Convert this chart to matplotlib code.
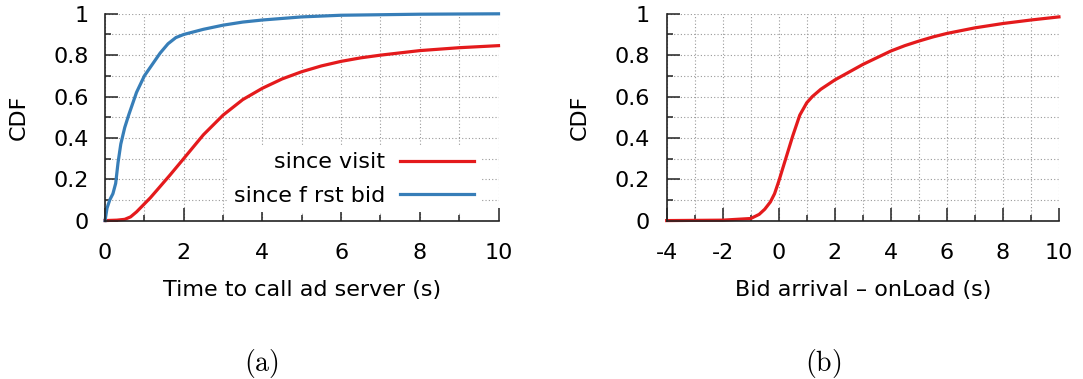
import matplotlib
matplotlib.use("Agg")
import matplotlib.pyplot as plt
from matplotlib.ticker import MultipleLocator, FuncFormatter

# panel (a): time to call ad server
visit_x = [0, 0.3, 0.5, 0.65, 0.8, 0.97, 1.15, 1.31, 1.65, 2.0, 2.5, 3.0, 3.5, 4.0, 4.5, 5.0, 5.5, 6.0, 6.5, 7.0, 8.0, 9.0, 10.0]
visit_y = [0, 0.002, 0.006, 0.018, 0.042, 0.075, 0.11, 0.145, 0.22, 0.30, 0.415, 0.51, 0.585, 0.64, 0.685, 0.72, 0.748, 0.77, 0.787, 0.80, 0.822, 0.836, 0.846]

bid_x = [0, 0.05, 0.12, 0.2, 0.27, 0.33, 0.4, 0.5, 0.6, 0.8, 1.0, 1.2, 1.4, 1.6, 1.8, 2.0, 2.5, 3.0, 3.5, 4.0, 5.0, 6.0, 8.0, 10.0]
bid_y = [0, 0.06, 0.10, 0.13, 0.18, 0.28, 0.37, 0.45, 0.51, 0.62, 0.70, 0.755, 0.81, 0.855, 0.885, 0.90, 0.925, 0.945, 0.96, 0.97, 0.985, 0.993, 0.998, 1.0]

# panel (b): bid arrival minus onLoad
load_x = [-4, -2, -1, -0.7, -0.5, -0.3, -0.15, 0, 0.25, 0.5, 0.75, 1.0, 1.2, 1.5, 2, 3, 4, 4.5, 5, 5.5, 6, 7, 8, 9, 10]
load_y = [0, 0.002, 0.01, 0.03, 0.055, 0.09, 0.13, 0.19, 0.30, 0.41, 0.51, 0.57, 0.60, 0.635, 0.68, 0.755, 0.82, 0.846, 0.868, 0.888, 0.905, 0.932, 0.953, 0.97, 0.985]

RED = '#e41a1c'
BLUE = '#377eb8'

plt.rcParams['font.family'] = 'DejaVu Sans'
plt.rcParams['font.size'] = 16
plt.rcParams['mathtext.fontset'] = 'cm'

fig = plt.figure(figsize=(10.83, 3.79), dpi=100)
ax_a = fig.add_axes([0.0970, 0.418, 0.3633, 0.5456])
ax_b = fig.add_axes([0.6156, 0.418, 0.3622, 0.5456])


def style(ax, xmin, xmax):
    ax.set_xlim(xmin, xmax)
    ax.set_ylim(0, 1)
    ax.xaxis.set_major_locator(MultipleLocator(2))
    ax.xaxis.set_minor_locator(MultipleLocator(1))
    ax.yaxis.set_major_locator(MultipleLocator(0.2))
    ax.yaxis.set_minor_locator(MultipleLocator(0.1))
    ax.yaxis.set_major_formatter(FuncFormatter(lambda v, p: f"{v:g}"))
    ax.xaxis.set_major_formatter(FuncFormatter(lambda v, p: f"{v:g}"))
    for s in ('top', 'right'):
        ax.spines[s].set_visible(False)
    for s in ('left', 'bottom'):
        ax.spines[s].set_linewidth(1.2)
        ax.spines[s].set_color('#222222')
    ax.tick_params(which='both', direction='in', top=False, right=False,
                   color='#222222', width=1.1)
    ax.tick_params(which='major', length=9.5)
    ax.tick_params(which='minor', length=4.5)
    ax.tick_params(axis='x', which='major', pad=16)
    ax.tick_params(axis='y', which='major', pad=12)
    ax.grid(True, which='both', linestyle=(0, (1, 2)), color='#999999', linewidth=0.8)
    ax.set_axisbelow(True)
    ax.set_ylabel('CDF')
    ax.yaxis.set_label_coords(-0.195, 0.5)


style(ax_a, 0, 10)
ax_a.plot(visit_x, visit_y, color=RED, lw=2.3, label='since visit', clip_on=False)
ax_a.plot(bid_x, bid_y, color=BLUE, lw=2.3, label='since f rst bid', clip_on=False)
ax_a.set_xlabel('Time to call ad server (s)')
ax_a.xaxis.set_label_coords(0.5, -0.285)
leg = ax_a.legend(loc='lower right', bbox_to_anchor=(0.954, 0.04), markerfirst=False,
                  frameon=True, fancybox=False, framealpha=1, edgecolor='none',
                  facecolor='white', handlelength=3.3, handletextpad=0.7,
                  labelspacing=0.6, borderpad=0.3, borderaxespad=0)

style(ax_b, -4, 10)
ax_b.plot(load_x, load_y, color=RED, lw=2.3, clip_on=False)
ax_b.set_xlabel('Bid arrival \u2013 onLoad (s)')
ax_b.xaxis.set_label_coords(0.5, -0.285)

fig.text(0.241, 0.042, r'$(\mathrm{a})$', ha='center', va='center', fontsize=20)
fig.text(0.760, 0.042, r'$(\mathrm{b})$', ha='center', va='center', fontsize=20)

fig.savefig('out.png', dpi=100)
